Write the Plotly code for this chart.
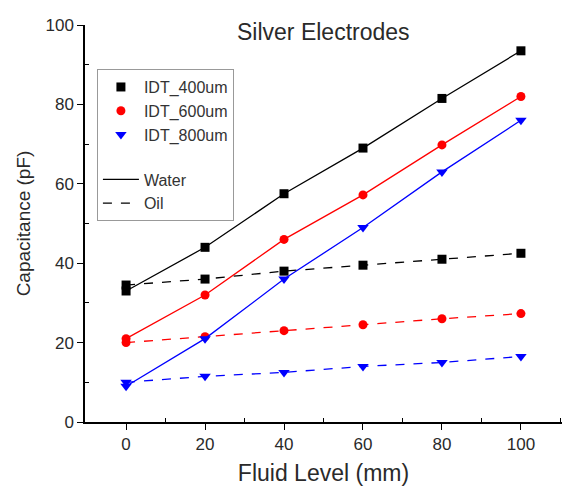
import plotly.graph_objects as go

level = [0, 20, 40, 60, 80, 100]

water_400 = [33.0, 44.0, 57.5, 69.0, 81.5, 93.5]
oil_400 = [34.5, 36.0, 38.0, 39.5, 41.0, 42.5]
water_600 = [21.0, 32.0, 46.0, 57.2, 69.8, 82.0]
oil_600 = [20.0, 21.5, 23.0, 24.5, 26.0, 27.3]
water_800 = [9.0, 21.0, 36.0, 49.0, 63.0, 76.0]
oil_800 = [10.0, 11.5, 12.5, 14.0, 15.0, 16.5]

series = [
    ("IDT_400um", water_400, oil_400, "#000000", "square", 9),
    ("IDT_600um", water_600, oil_600, "#ff0000", "circle", 9),
    ("IDT_800um", water_800, oil_800, "#0000ff", "triangle-down", 10),
]

FONT = "Liberation Sans, Arial, sans-serif"
TXT = "#2a2a2a"
fig = go.Figure()

for name, w, o, col, sym, sz in series:
    fig.add_trace(go.Scatter(x=level, y=w, mode="lines+markers", showlegend=False,
                             line=dict(color=col, width=1.3),
                             marker=dict(symbol=sym, size=sz, color=col)))
    fig.add_trace(go.Scatter(x=level, y=o, mode="lines+markers", showlegend=False,
                             line=dict(color=col, width=1.3, dash="dash"),
                             marker=dict(symbol=sym, size=sz, color=col)))
    fig.add_trace(go.Scatter(x=[None], y=[None], mode="markers", name=name,
                             legendgroup="g1",
                             marker=dict(symbol=sym, size=sz, color=col)))

fig.add_trace(go.Scatter(x=[None], y=[None], mode="lines", name="Water",
                         legendgroup="g2", line=dict(color="black", width=1.3)))
fig.add_trace(go.Scatter(x=[None], y=[None], mode="lines", name="Oil",
                         legendgroup="g2", line=dict(color="black", width=1.3, dash="dash")))

fig.update_layout(
    width=562, height=492,
    margin=dict(l=85, r=0, t=25, b=70),
    paper_bgcolor="white", plot_bgcolor="white",
    font=dict(family=FONT, color=TXT),
    showlegend=True,
    legend=dict(x=0.025, y=0.889, xanchor="left", yanchor="top",
                bordercolor="#999999", borderwidth=1, bgcolor="white",
                font=dict(size=16, color="#333333"),
                traceorder="grouped", tracegroupgap=21, itemwidth=36),
    annotations=[dict(text="Silver Electrodes", x=0.5, y=0.982, xref="paper", yref="paper",
                      xanchor="center", yanchor="middle", showarrow=False,
                      font=dict(size=23, color=TXT))],
)

fig.update_xaxes(range=[-10.4, 110.4], tickvals=[0, 20, 40, 60, 80, 100], automargin=False,
                 showgrid=False, zeroline=False, showline=True, linecolor="black", linewidth=1.5,
                 ticks="outside", ticklen=6, tickcolor="black", tickwidth=1.2,
                 minor=dict(tickvals=[10, 30, 50, 70, 90, 110], ticks="inside", ticklen=4, tickcolor="black"),
                 tickfont=dict(size=17, color=TXT),
                 title=dict(text="Fluid Level (mm)", font=dict(size=23, color=TXT), standoff=12))
fig.update_yaxes(range=[0, 100], tickvals=[0, 20, 40, 60, 80, 100], automargin=False,
                 showgrid=False, zeroline=False, showline=True, linecolor="black", linewidth=1.5,
                 ticks="outside", ticklen=6, tickcolor="black", tickwidth=1.2,
                 minor=dict(tickvals=[10, 30, 50, 70, 90], ticks="inside", ticklen=4, tickcolor="black"),
                 tickfont=dict(size=17, color=TXT),
                 title=dict(text="Capacitance (pF)", font=dict(size=19, color=TXT), standoff=10))

fig.write_html("out.html", config={"displayModeBar": False},
               post_script="document.body.style.margin='0';document.body.style.overflow='hidden';")
